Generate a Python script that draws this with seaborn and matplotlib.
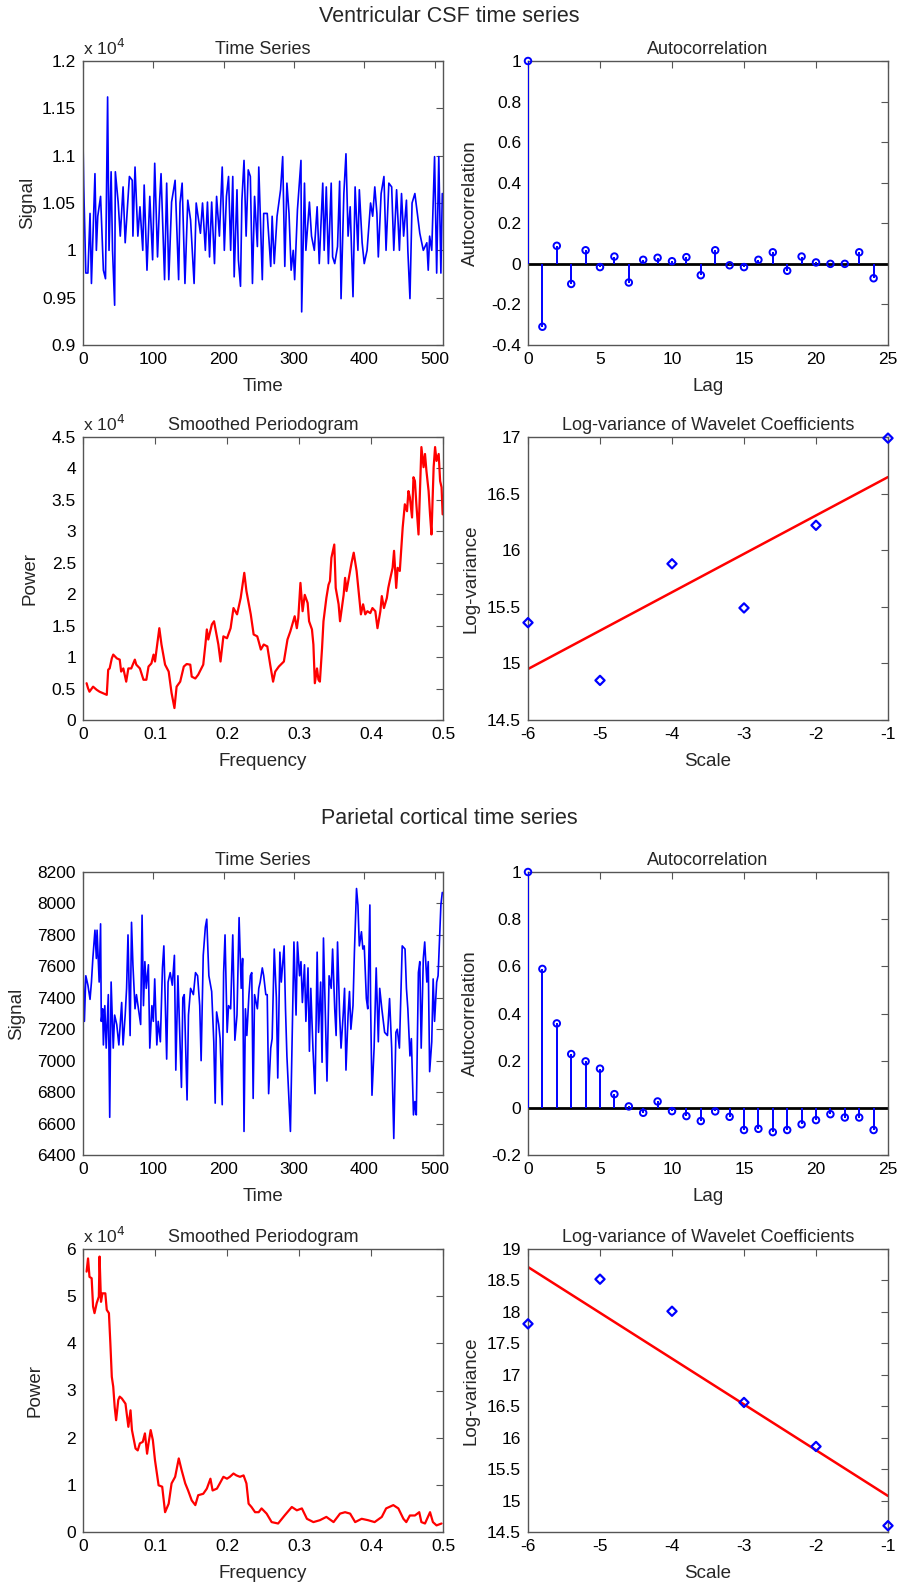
import numpy as np
import pandas as pd
import matplotlib
matplotlib.use("Agg")
import matplotlib.pyplot as plt
import seaborn as sns
from matplotlib.ticker import FuncFormatter, MultipleLocator

# ---------------- data: Ventricular CSF ----------------
csf_time = [0, 1, 4, 7, 10, 12, 17, 19, 21, 25, 29, 32, 35, 37, 40, 42, 45, 46, 50, 53, 57, 60, 66, 70, 71,
            74, 78, 81, 85, 87, 91, 95, 99, 102, 106, 109, 111, 116, 119, 122, 126, 131, 136, 138, 141, 145,
            149, 153, 158, 161, 167, 170, 174, 177, 180, 183, 187, 190, 194, 198, 201, 204, 207, 210, 213,
            215, 219, 221, 224, 226, 229, 232, 235, 238, 241, 244, 248, 250, 255, 257, 262, 267, 269, 272,
            276, 281, 284, 287, 290, 293, 296, 299, 301, 305, 310, 311, 315, 317, 322, 325, 329, 333, 336,
            341, 343, 346, 349, 353, 355, 358, 362, 365, 367, 371, 374, 377, 380, 384, 387, 391, 393, 397,
            400, 404, 409, 412, 415, 418, 420, 424, 428, 431, 435, 439, 442, 446, 450, 453, 456, 460, 462,
            465, 468, 472, 476, 479, 484, 489, 491, 493, 496, 498, 500, 503, 506, 509, 511]
csf_signal = [11170, 10690, 9760, 9760, 10390, 9650, 10810, 10000, 10360, 10570, 9790, 9700, 11620, 10000,
              10830, 10000, 9420, 10830, 10510, 10150, 10670, 10080, 10780, 10740, 10150, 10880, 10150,
              10460, 10000, 10690, 9790, 10570, 9900, 10920, 9930, 10530, 10810, 9690, 10710, 9690, 10510,
              10740, 9690, 10500, 10710, 9650, 10530, 10320, 9650, 10500, 10180, 10500, 10000, 10510, 9930,
              10510, 9860, 10570, 10150, 10880, 10000, 10570, 10780, 10000, 10780, 9720, 10640, 9900, 9620,
              10530, 10950, 10150, 10850, 10780, 9650, 10570, 10040, 10880, 9690, 10390, 10390, 9830, 10360,
              9860, 10360, 10640, 10990, 9830, 10710, 10390, 9790, 10000, 9690, 10430, 10950, 9350, 10710,
              10000, 10510, 10150, 10000, 10460, 9860, 10710, 10000, 10670, 9860, 10710, 9930, 9860, 10040,
              10730, 9490, 10600, 11020, 10150, 10460, 9510, 10670, 10000, 10640, 10080, 9860, 10000, 10500,
              10360, 10670, 10390, 9930, 10600, 10780, 10000, 10710, 10670, 10000, 10640, 10000, 10600,
              10150, 10530, 10000, 9490, 10500, 10600, 10360, 10180, 10000, 10080, 9790, 10150, 10000, 10500,
              10990, 9760, 10990, 9760, 10600]

lags = list(range(25))
csf_acf = [1.0, -0.31, 0.089, -0.099, 0.067, -0.016, 0.036, -0.092, 0.02, 0.03, 0.013, 0.033, -0.056,
           0.067, -0.007, -0.016, 0.02, 0.057, -0.034, 0.036, 0.007, 0.0, 0.0, 0.057, -0.071]

csf_freq = [0.005, 0.007, 0.009, 0.014, 0.019, 0.023, 0.028, 0.033, 0.035, 0.037, 0.040, 0.042, 0.047,
            0.051, 0.053, 0.056, 0.060, 0.063, 0.067, 0.072, 0.074, 0.079, 0.084, 0.088, 0.091, 0.095,
            0.098, 0.100, 0.106, 0.109, 0.114, 0.119, 0.123, 0.127, 0.130, 0.135, 0.140, 0.144, 0.149,
            0.151, 0.156, 0.160, 0.167, 0.170, 0.172, 0.174, 0.179, 0.182, 0.188, 0.191, 0.195, 0.200,
            0.205, 0.209, 0.214, 0.219, 0.224, 0.227, 0.233, 0.237, 0.242, 0.244, 0.247, 0.251, 0.256,
            0.260, 0.264, 0.267, 0.272, 0.279, 0.284, 0.288,
            0.294, 0.297, 0.299, 0.302, 0.305, 0.308, 0.312, 0.314, 0.318, 0.320, 0.322, 0.325, 0.327,
            0.329, 0.332, 0.334, 0.338, 0.341, 0.343, 0.345, 0.349, 0.351, 0.355, 0.357, 0.362, 0.364,
            0.366, 0.370, 0.373, 0.376, 0.380, 0.384, 0.386, 0.389, 0.392, 0.395, 0.399, 0.402, 0.406,
            0.409, 0.413, 0.415, 0.418, 0.422, 0.424, 0.426, 0.430, 0.432, 0.435, 0.437, 0.440, 0.444,
            0.447, 0.450, 0.452, 0.454, 0.457, 0.459, 0.461, 0.463, 0.466, 0.468, 0.470, 0.473, 0.475,
            0.477, 0.480, 0.482, 0.484, 0.487, 0.489, 0.491, 0.494, 0.496, 0.498, 0.4995]
csf_power_e4 = [0.585, 0.505, 0.45, 0.53, 0.48, 0.45, 0.425, 0.40, 0.80, 0.82, 0.98, 1.04, 0.98, 0.96, 0.77,
                0.82, 0.61, 0.82, 0.82, 0.96, 0.88, 0.82, 0.64, 0.64, 0.85, 0.90, 1.04, 0.93, 1.46, 1.20,
                0.88, 0.77, 0.43, 0.19, 0.53, 0.61, 0.85, 0.89, 0.88, 0.69, 0.66, 0.72, 0.88, 1.20, 1.44,
                1.28, 1.52, 1.57, 1.20, 0.93, 1.33, 1.30, 1.46, 1.78, 1.68, 1.94, 2.34, 2.05, 1.68, 1.36,
                1.33, 1.25, 1.12, 1.20, 1.17, 0.88, 0.61, 0.77, 0.85, 0.93, 1.28, 1.41,
                1.65, 1.46, 1.62, 2.18, 1.73, 1.99, 1.86, 1.57, 1.44, 1.20, 0.585, 0.82, 0.64, 0.61, 1.14,
                1.57, 1.94, 2.15, 2.21, 2.58, 2.79, 2.10, 1.84, 1.57, 1.99, 2.26, 2.05, 2.31, 2.50, 2.66,
                2.37, 1.91, 1.68, 1.84, 1.68, 1.73, 1.70, 1.78, 1.73, 1.46, 1.73, 1.97, 1.78, 1.94, 2.10,
                2.21, 2.42, 2.69, 2.10, 2.42, 2.37, 3.06, 3.43, 3.32, 3.64, 3.54, 3.22, 3.86, 3.80, 3.43,
                2.95, 3.64, 4.34, 4.02, 4.23, 3.96, 3.64, 3.27, 2.95, 4.02, 4.34, 4.12, 4.23, 3.80, 3.70,
                3.27]

scales = [-6, -5, -4, -3, -2, -1]
csf_logvar = [15.36, 14.85, 15.88, 15.49, 16.22, 16.99]

# ---------------- data: Parietal cortical ----------------
par_time = [0, 2, 4, 7, 10, 12, 14, 17, 19, 20, 23, 25, 26, 28, 29, 31, 33, 36, 38, 40, 43, 45, 48, 51, 55,
            57, 60, 62, 64, 67, 69, 71, 74, 76, 80, 82, 84, 86, 88, 90, 93, 95, 98, 100, 102, 105, 107, 110,
            113, 115, 119, 121, 124, 127, 130, 132, 135, 140, 142, 144, 148, 150, 153, 157, 160, 163, 166,
            168, 171, 174, 176, 179, 183, 186, 188, 190, 193, 195, 198, 200, 202, 205, 207, 210, 213, 216,
            219, 222, 225, 227, 229, 231, 233, 236, 238, 240, 242, 244, 248, 250, 252, 255, 257, 260, 262,
            264, 267, 269, 272, 275, 277, 280, 282, 286, 288, 290, 293, 295,
            300, 303, 305, 308, 310, 312, 315, 317, 320, 322, 324, 327, 330, 333, 335, 338, 340, 342, 345,
            347, 350, 353, 355, 358, 360, 362, 365, 367, 370, 372, 374, 377, 379, 381, 384, 386, 389, 391,
            393, 396, 398, 400, 403, 405, 408, 409, 411, 414, 417, 420, 422, 425, 429, 433, 436, 439, 442,
            445, 447, 450, 454, 458, 460, 462, 465, 467, 470, 472, 474, 477, 479, 481, 484, 486, 489, 491,
            493, 496, 498, 500, 503, 505, 509, 511]
par_signal = [7610, 7250, 7540, 7480, 7390, 7500, 7650, 7830, 7650, 7830, 7500, 7870, 7250, 7330, 7100,
              7350, 7080, 7420, 6640, 7500, 7080, 7290, 7230, 7100, 7370, 7100, 7290, 7460, 7800, 7160,
              7880, 7610, 7330, 7420, 7290, 7230, 7925, 7350, 7630, 7460, 7610, 7080, 7350, 7250, 7520,
              7100, 7250, 7120, 7590, 7730, 7010, 7500, 7560, 7480, 7670, 6940, 7540, 6830, 7400, 7420,
              6750, 7290, 7460, 7420, 7560, 7540, 7350, 7000, 7670, 7850, 7900, 7540, 7440, 7120, 6730,
              7310, 7230, 7140, 6720, 7560, 7800, 7180, 7350, 7330, 7800, 7130, 7290, 7910, 7460, 7650,
              6550, 7330, 7160, 7420, 7540, 7560, 6760, 7420, 7330, 7460, 7500, 7590, 7540, 7420, 7420,
              6790, 7080, 7140, 7710, 7400, 6890, 7690, 7500, 7730, 7330, 7030, 6740, 6550,
              7755, 7290, 7755, 7540, 7630, 7370, 7610, 7250, 7590, 7060, 7460, 7080, 6790, 7690, 7180,
              7500, 6990, 7780, 7250, 6870, 7540, 7460, 7710, 7330, 7160, 7755, 7290, 7080, 7290, 7460,
              6940, 7290, 7440, 7200, 7350, 7690, 8095, 7990, 7730, 7820, 7710, 7730, 7395, 7330, 7990,
              7370, 6780, 7080, 7590, 7120, 7460, 7330, 7180, 7160, 7395, 7080, 6505, 7180, 7200, 7080,
              7730, 7710, 7460, 7330, 7030, 7140, 6655, 6740, 6655, 7560, 7630, 7080, 7650, 7755, 7500,
              7630, 6930, 7120, 7520, 7250, 7500, 7540, 7990, 8070]

par_acf = [1.0, 0.589, 0.358, 0.228, 0.197, 0.166, 0.058, 0.006, -0.021, 0.027, -0.014, -0.035, -0.056,
           -0.015, -0.038, -0.094, -0.089, -0.103, -0.094, -0.07, -0.052, -0.027, -0.041, -0.041, -0.094]

par_freq = [0.005, 0.007, 0.009, 0.012, 0.014, 0.016, 0.019, 0.022, 0.023, 0.025, 0.027, 0.031, 0.033,
            0.036, 0.038, 0.040, 0.042, 0.044, 0.046, 0.049, 0.051, 0.054, 0.059, 0.063, 0.066, 0.068,
            0.073, 0.076, 0.079, 0.083, 0.086, 0.089, 0.091, 0.094, 0.097, 0.100, 0.105, 0.110, 0.114,
            0.119, 0.123, 0.128, 0.133, 0.137, 0.142, 0.146, 0.151, 0.156, 0.160, 0.167, 0.172, 0.177,
            0.180, 0.186, 0.190, 0.195, 0.200, 0.204, 0.209, 0.213, 0.218, 0.223, 0.227, 0.230, 0.234,
            0.239, 0.244, 0.248, 0.255, 0.262, 0.271, 0.280, 0.290, 0.297, 0.304, 0.311, 0.320, 0.329,
            0.338, 0.348, 0.357, 0.364, 0.371, 0.378, 0.387, 0.396, 0.405, 0.415, 0.421, 0.431, 0.438,
            0.445, 0.449, 0.454, 0.461, 0.467, 0.470, 0.475, 0.482, 0.486, 0.491, 0.498]
par_power_e4 = [5.52, 5.80, 5.41, 5.38, 4.78, 4.64, 4.85, 4.99, 5.84, 4.88, 5.06, 5.06, 4.71, 4.64, 4.00,
                3.29, 3.08, 2.65, 2.37, 2.80, 2.87, 2.83, 2.72, 2.23, 2.58, 2.16, 1.77, 1.73, 1.88, 1.91,
                2.09, 1.66, 1.88, 2.16, 1.95, 1.52, 0.99, 0.96, 0.42, 0.60, 1.03, 1.17, 1.56, 1.31, 1.03,
                0.88, 0.67, 0.57, 0.78, 0.81, 0.92, 1.13, 0.88, 0.92, 1.03, 1.17, 1.13, 1.17, 1.24, 1.20,
                1.17, 1.20, 1.03, 0.60, 0.53, 0.42, 0.42, 0.50, 0.39, 0.21, 0.18, 0.35, 0.53, 0.46, 0.50,
                0.28, 0.21, 0.25, 0.32, 0.21, 0.39, 0.42, 0.39, 0.21, 0.28, 0.25, 0.21, 0.32, 0.50, 0.57,
                0.50, 0.28, 0.21, 0.35, 0.35, 0.42, 0.21, 0.18, 0.42, 0.21, 0.14, 0.18]

par_logvar = [17.81, 18.52, 18.01, 16.56, 15.86, 14.60]

for a, b in [(csf_time, csf_signal), (par_time, par_signal), (csf_freq, csf_power_e4),
             (par_freq, par_power_e4), (lags, csf_acf), (lags, par_acf)]:
    if len(a) != len(b):
        raise ValueError(f"length mismatch {len(a)} {len(b)}")

# ---------------- styling ----------------
sns.set_theme(style="white")
plt.rcParams["font.family"] = ["Liberation Sans", "DejaVu Sans"]
plt.rcParams["axes.edgecolor"] = "#555555"
plt.rcParams["axes.linewidth"] = 1.0
plt.rcParams["axes.unicode_minus"] = False

TICK = 12.5
TITLE = 13
LABEL = 13.5
SUP = 15.5

W, H = 899, 1590
fig = plt.figure(figsize=(W / 100, H / 100), dpi=100)


def make_ax(left_px, top_px, bottom_px, width_px=360):
    return fig.add_axes([left_px / W, 1 - bottom_px / H, width_px / W, (bottom_px - top_px) / H])


def style(ax, title, xlabel, ylabel, ylab_x):
    ax.set_title(title, fontsize=TITLE, pad=5)
    ax.set_xlabel(xlabel, fontsize=LABEL, labelpad=8)
    ax.set_ylabel(ylabel, fontsize=LABEL)
    ax.yaxis.set_label_coords(ylab_x, 0.5)
    ax.tick_params(direction="in", top=True, right=True, length=5, width=0.8,
                   color="#555555", labelsize=TICK, pad=5, labelcolor="black")
    for s in ax.spines.values():
        s.set_visible(True)
        s.set_color("#555555")


L, R = 83, 528
rows = [(61, 345), (437, 720), (872, 1155), (1249, 1532)]

blue = "#0000ff"
red = "#ff0000"


def ts_panel(ax, t, v):
    sns.lineplot(x=t, y=v, ax=ax, color=blue, linewidth=1.2, estimator=None, sort=False)
    ax.set_xlim(0, 512)
    ax.xaxis.set_major_locator(MultipleLocator(100))


def acf_panel(ax, a, ylo):
    ax.axhline(0, color="black", linewidth=2, zorder=2)
    ax.vlines(lags, 0, a, color=blue, linewidth=1.4, zorder=3)
    sns.scatterplot(x=lags, y=a, ax=ax, marker="o", s=22, zorder=4, clip_on=False)
    coll = ax.collections[-1]
    coll.set_facecolor("none")
    coll.set_edgecolor(blue)
    coll.set_linewidth(1.4)
    ax.set_xlim(0, 25)
    ax.set_ylim(ylo, 1)
    ax.xaxis.set_major_locator(MultipleLocator(5))
    ax.yaxis.set_major_locator(MultipleLocator(0.2))
    ax.yaxis.set_major_formatter(FuncFormatter(lambda v, p: f"{v:g}" if abs(v) > 1e-9 else "0"))


def pgram_panel(ax, f, p, ytop, ystep):
    sns.lineplot(x=f, y=p, ax=ax, color=red, linewidth=1.6, estimator=None, sort=False)
    ax.set_xlim(0, 0.5)
    ax.set_ylim(0, ytop)
    ax.xaxis.set_major_locator(MultipleLocator(0.1))
    ax.yaxis.set_major_locator(MultipleLocator(ystep))
    ax.xaxis.set_major_formatter(FuncFormatter(lambda v, p_: f"{v:g}"))
    ax.yaxis.set_major_formatter(FuncFormatter(lambda v, p_: f"{v:g}"))
    ax.text(0, 1.012, r"x 10$^4$", transform=ax.transAxes, ha="left", va="bottom", fontsize=TICK)


def wave_panel(ax, lv, ylo, yhi):
    df = pd.DataFrame({"scale": scales, "logvar": lv})
    sns.regplot(data=df, x="scale", y="logvar", ax=ax, ci=None, scatter=False, truncate=True,
                line_kws=dict(color=red, linewidth=1.8))
    sns.scatterplot(data=df, x="scale", y="logvar", ax=ax, marker="D", s=22, zorder=4, clip_on=False)
    coll = ax.collections[-1]
    coll.set_facecolor("none")
    coll.set_edgecolor(blue)
    coll.set_linewidth(1.6)
    ax.set_xlim(-6, -1)
    ax.set_ylim(ylo, yhi)
    ax.xaxis.set_major_locator(MultipleLocator(1))
    ax.yaxis.set_major_locator(MultipleLocator(0.5))
    ax.xaxis.set_major_formatter(FuncFormatter(lambda v, p_: f"{v:g}"))
    ax.yaxis.set_major_formatter(FuncFormatter(lambda v, p_: f"{v:g}"))


# ---- Ventricular CSF ----
ax = make_ax(L, *rows[0])
ts_panel(ax, csf_time, csf_signal)
ax.set_ylim(9000, 12000)
ax.yaxis.set_major_locator(MultipleLocator(500))
ax.yaxis.set_major_formatter(FuncFormatter(lambda v, p: f"{v / 1e4:g}"))
ax.text(0, 1.012, r"x 10$^4$", transform=ax.transAxes, ha="left", va="bottom", fontsize=TICK)
style(ax, "Time Series", "Time", "Signal", -0.13)

ax = make_ax(R, *rows[0])
acf_panel(ax, csf_acf, -0.4)
style(ax, "Autocorrelation", "Lag", "Autocorrelation", -0.135)

ax = make_ax(L, *rows[1])
pgram_panel(ax, csf_freq, csf_power_e4, 4.5, 0.5)
style(ax, "Smoothed Periodogram", "Frequency", "Power", -0.125)

ax = make_ax(R, *rows[1])
wave_panel(ax, csf_logvar, 14.5, 17)
style(ax, "Log-variance of Wavelet Coefficients", "Scale", "Log-variance", -0.135)

# ---- Parietal cortical ----
ax = make_ax(L, *rows[2])
ts_panel(ax, par_time, par_signal)
ax.set_ylim(6400, 8200)
ax.yaxis.set_major_locator(MultipleLocator(200))
style(ax, "Time Series", "Time", "Signal", -0.16)

ax = make_ax(R, *rows[2])
acf_panel(ax, par_acf, -0.2)
style(ax, "Autocorrelation", "Lag", "Autocorrelation", -0.135)

ax = make_ax(L, *rows[3])
pgram_panel(ax, par_freq, par_power_e4, 6, 1)
style(ax, "Smoothed Periodogram", "Frequency", "Power", -0.11)

ax = make_ax(R, *rows[3])
wave_panel(ax, par_logvar, 14.5, 19)
style(ax, "Log-variance of Wavelet Coefficients", "Scale", "Log-variance", -0.135)

fig.text(0.5, 1 - 17 / H, "Ventricular CSF time series", ha="center", va="center", fontsize=SUP)
fig.text(0.5, 1 - 819 / H, "Parietal cortical time series", ha="center", va="center", fontsize=SUP)

fig.savefig("out.png", dpi=100)
